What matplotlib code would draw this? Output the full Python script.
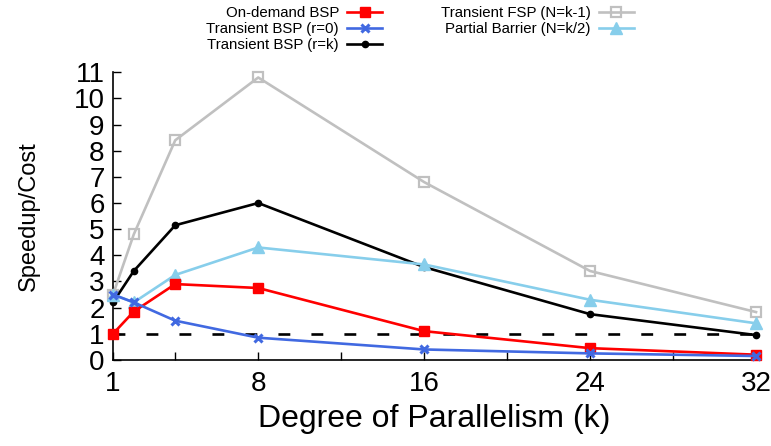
import numpy as np
import matplotlib
matplotlib.use("Agg")
import matplotlib.pyplot as plt
from matplotlib import font_manager

plt.rcParams["font.family"] = ["Liberation Sans", "DejaVu Sans"]

k = [1, 2, 4, 8, 16, 24, 32]
on_demand = [1.0, 1.85, 2.9, 2.75, 1.1, 0.45, 0.2]
trans_r0 = [2.5, 2.2, 1.5, 0.85, 0.4, 0.25, 0.15]
trans_rk = [2.2, 3.4, 5.15, 6.0, 3.55, 1.75, 0.95]
trans_fsp = [2.5, 4.8, 8.4, 10.8, 6.8, 3.4, 1.83]
partial = [2.5, 2.2, 3.25, 4.3, 3.65, 2.3, 1.4]

xticks = [1, 8, 16, 24, 32]
yticks = list(range(0, 12))

fig = plt.figure(figsize=(7.71, 4.46), dpi=100)
ax = fig.add_axes([0.1466, 0.193, 0.834, 0.645])

lw = 1.9
styles = [
    (trans_fsp, "Transient FSP (N=k-1)", dict(color="#c0c0c0", marker="s", ms=6.5, mfc="none", mew=1.6)),
    (trans_rk, "Transient BSP (r=k)", dict(color="black", marker="o", ms=4.5)),
    (partial, "Partial Barrier (N=k/2)", dict(color="#87ceeb", marker="^", ms=8.5)),
    (on_demand, "On-demand BSP", dict(color="#ff0000", marker="s", ms=7)),
    (trans_r0, "Transient BSP (r=0)", dict(color="#4169e1", marker="x", ms=6, mew=2.2)),
]
handles = {}
for vals, label, st in styles:
    ln, = ax.plot(k, vals, lw=lw, clip_on=False, zorder=3, **st)
    handles[label] = ln

# break-even reference line
ax.plot([1, 32], [1, 1], color="black", lw=1.9, ls=(0, (4.5, 8)), zorder=2)

ax.set_xlim(1, 32)
ax.set_ylim(0, 11)
ax.set_xticks(xticks)
ax.set_xticks(range(4, 32, 4), minor=True)
ax.set_yticks(yticks)
ax.tick_params(axis="both", which="both", direction="in", labelsize=20, width=1)
ax.tick_params(axis="both", which="major", length=6)
ax.tick_params(axis="x", which="minor", length=6)
ax.tick_params(axis="x", pad=8)
ax.tick_params(axis="y", pad=6)
for s in ("top", "right"):
    ax.spines[s].set_visible(False)
for s in ("left", "bottom"):
    ax.spines[s].set_linewidth(1.2)

ax.set_xlabel("Degree of Parallelism (k)", fontsize=23, labelpad=5)
ax.set_ylabel("Speedup/Cost", fontsize=17, labelpad=24)

# key text is condensed; use the narrow face when it is installed
installed = {f.name for f in font_manager.fontManager.ttflist}
if "Liberation Sans Narrow" in installed:
    key_font = font_manager.FontProperties(family="Liberation Sans Narrow", size=12.5)
else:
    key_font = font_manager.FontProperties(family="Liberation Sans", size=10.8)

col1 = ["On-demand BSP", "Transient BSP (r=0)", "Transient BSP (r=k)"]
col2 = ["Transient FSP (N=k-1)", "Partial Barrier (N=k/2)"]
leg_kw = dict(markerfirst=False, frameon=False, prop=key_font, handlelength=2.3,
              labelspacing=0.12, handletextpad=0.55, borderaxespad=0)
fig.legend([handles[l] for l in col1], col1, loc="upper right",
           bbox_to_anchor=(0.503, 0.999), **leg_kw)
fig.legend([handles[l] for l in col2], col2, loc="upper right",
           bbox_to_anchor=(0.8297, 0.999), **leg_kw)

fig.savefig("out.png", dpi=100)
